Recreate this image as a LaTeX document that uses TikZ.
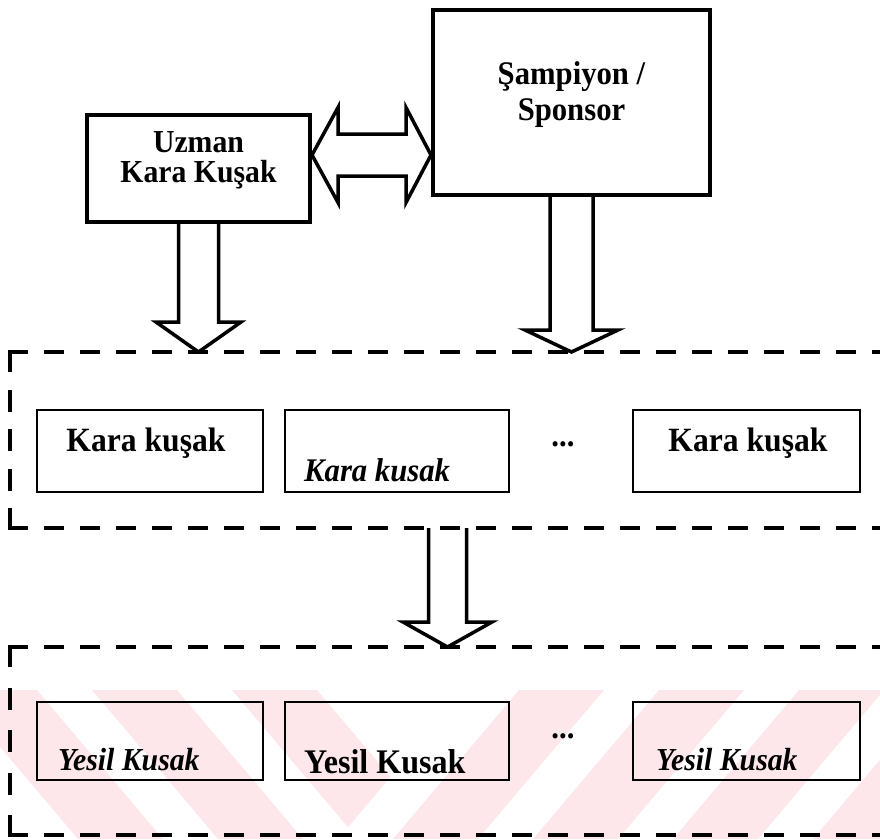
\documentclass[tikz,border=0pt]{standalone}
\usepackage{fontspec}
\setmainfont{Liberation Serif}
\newfontfamily\dfont[FakeStretch=0.93]{Liberation Serif}
\usetikzlibrary{calc}
\definecolor{wmpink}{RGB}{253,231,235}
\begin{document}
\begin{tikzpicture}[x=1pt,y=-1pt,
  bigbox/.style={draw, line width=4pt, inner sep=0pt},
  smallbox/.style={draw, line width=2.4pt, inner sep=0pt, minimum height=82pt},
  lbl/.style={inner sep=0pt, font=\dfont\fontsize{33}{33}\selectfont\bfseries},
  lbli/.style={inner sep=0pt, font=\dfont\fontsize{33}{33}\selectfont\bfseries\itshape},
  grpline/.style={line width=4pt, line cap=rect, dash pattern=on 16pt off 20pt},
  grpv/.style={line width=4pt, line cap=rect, dash pattern=on 18pt off #1},
  blockarrow/.style={draw, line width=3.5pt, fill=white, line join=miter}]
\useasboundingbox (0,0) rectangle (880,839);

% faint diagonal background bands in the lower part, meeting in a V
\begin{scope}
  \clip (0,690) -- (464,690) -- (338,839) -- (0,839) -- cycle;
  \foreach \a in {-48,92,232}
    \fill[wmpink] (\a,690) -- ++(85,0) -- ++(126,149) -- ++(-85,0) -- cycle;
\end{scope}
\begin{scope}
  \clip (464,690) -- (880,690) -- (880,839) -- (338,839) -- cycle;
  \foreach \a in {393,533,673,813}
    \fill[wmpink] (\a,839) -- ++(85,0) -- ++(126,-149) -- ++(-85,0) -- cycle;
\end{scope}

% top boxes
\node[bigbox, minimum width=223pt, minimum height=107pt] (uzman) at (198.5,168.5) {};
\node[lbl, anchor=base, font=\dfont\fontsize{32}{32}\selectfont\bfseries] (uzmantxt1) at (198.5,152) {Uzman};
\node[lbl, anchor=base, font=\dfont\fontsize{32}{32}\selectfont\bfseries] (uzmantxt2) at (198.5,182) {Kara Kuşak};
\node[bigbox, minimum width=277pt, minimum height=185pt] (samp) at (571.5,102.5) {};
\node[lbl, anchor=base] (samptxt1) at (571.5,84) {Şampiyon /};
\node[lbl, anchor=base] (samptxt2) at (571.5,120) {Sponsor};

% first row
\node[smallbox, minimum width=226pt] (k1) at (150,451) {};
\node[smallbox, minimum width=224pt] (k2) at (397,451) {};
\node[smallbox, minimum width=227pt] (k3) at (746.5,451) {};
\node[lbl, anchor=base, font=\dfont\fontsize{34}{34}\selectfont\bfseries] (k1t) at (146,451) {Kara kuşak};
\node[lbli, anchor=base west] (k2t) at (304,481) {Kara kusak};
\node[lbl, anchor=base, font=\dfont\fontsize{34}{34}\selectfont\bfseries] (k3t) at (748,451) {Kara kuşak};
\node[lbl, anchor=base] (kdots) at (563,446) {...};

% second row
\node[smallbox, minimum width=226pt, minimum height=78pt] (y1) at (150,741) {};
\node[smallbox, minimum width=224pt, minimum height=78pt] (y2) at (397,741) {};
\node[smallbox, minimum width=227pt, minimum height=78pt] (y3) at (746.5,741) {};
\node[lbli, anchor=base west, font=\dfont\fontsize{32}{32}\selectfont\bfseries\itshape] (y1t) at (58,770) {Yesil Kusak};
\node[lbl, anchor=base west, font=\dfont\fontsize{34.5}{34.5}\selectfont\bfseries] (y2t) at (304,773) {Yesil Kusak};
\node[lbli, anchor=base west, font=\dfont\fontsize{32}{32}\selectfont\bfseries\itshape] (y3t) at (656,770) {Yesil Kusak};
\node[lbl, anchor=base] (ydots) at (563,738) {...};

% two-headed link between the top boxes
\coordinate (dl) at ([yshift=13.5pt]uzman.east);
\coordinate (dr) at (samp.west |- dl);
\draw[blockarrow] (dl) -- ($(dl)+(26,-47.5)$) -- ($(dl)+(26,-21)$)
  -- ($(dr)+(-25,-21)$) -- ($(dr)+(-25,-47.5)$) -- (dr)
  -- ($(dr)+(-25,47.5)$) -- ($(dr)+(-25,21)$)
  -- ($(dl)+(26,21)$) -- ($(dl)+(26,47.5)$) -- cycle;

% dashed group frames (open on the right)
\coordinate (g1) at (10,352);
\coordinate (g1e) at (880,352);
\coordinate (g1b) at (10,528);
\coordinate (g1be) at (880,528);
\coordinate (g2) at (10,647);
\coordinate (g2e) at (880,647);
\coordinate (g2b) at (10,835);
\coordinate (g2be) at (880,835);

% block arrows down into the first group
\coordinate (t1) at (uzman.south |- g1);
\draw[blockarrow] ($(uzman.south)+(-20,0)$) -- ($(t1)+(-20,-30)$)
  -- ($(t1)+(-42.5,-30)$) -- (t1) -- ($(t1)+(42.5,-30)$)
  -- ($(t1)+(20,-30)$) -- ($(uzman.south)+(20,0)$);
\coordinate (t2) at (samp.south |- g1);
\draw[blockarrow] ($(samp.south)+(-21.5,0)$) -- ($(t2)+(-21.5,-22)$)
  -- ($(t2)+(-46.5,-22)$) -- (t2) -- ($(t2)+(46.5,-22)$)
  -- ($(t2)+(21.5,-22)$) -- ($(samp.south)+(21.5,0)$);

% block arrow from the first group to the second
\coordinate (m1) at (447.5,528);
\coordinate (t3) at (m1 |- g2);
\draw[blockarrow] ($(m1)+(-19,0)$) -- ($(t3)+(-19,-25)$)
  -- ($(t3)+(-44.5,-25)$) -- (t3) -- ($(t3)+(44.5,-25)$)
  -- ($(t3)+(19,-25)$) -- ($(m1)+(19,0)$);

% dashed lines drawn over the arrow ends
\draw[grpline] (g1) -- (g1e);
\draw[grpline] (g1b) -- (g1be);
\draw[grpv=21.5pt] (g1) -- (g1b);
\draw[grpline] (g2) -- (g2e);
\draw[grpline] (g2b) -- (g2be);
\draw[grpv=24.5pt] (g2) -- (g2b);
\end{tikzpicture}
\end{document}
